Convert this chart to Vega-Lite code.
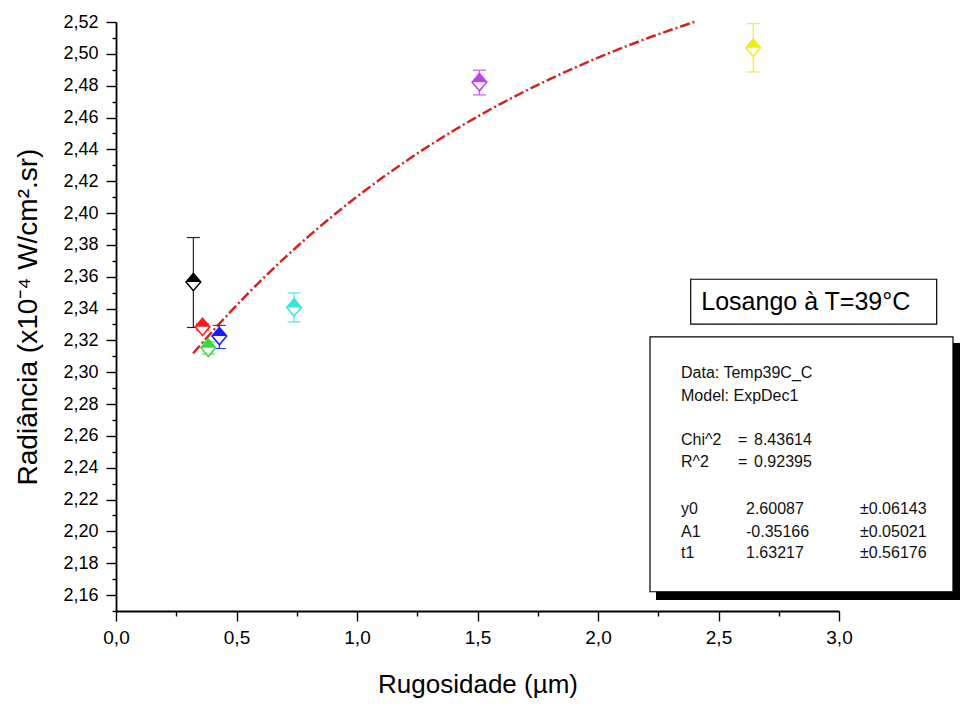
{
  "$schema": "https://vega.github.io/schema/vega-lite/v6.json",
  "autosize": "none",
  "width": 723,
  "height": 589,
  "padding": {"left": 116, "top": 22, "right": 121, "bottom": 93},
  "background": "white",
  "config": {"view": {"stroke": null}, "font": "Liberation Sans"},
  "datasets": {
    "pts": [
      {"s": "A", "x": 0.321, "y": 2.3567, "lo": 2.3281, "hi": 2.3846},
      {"s": "B", "x": 0.359, "y": 2.3285, "lo": 2.3265, "hi": 2.3305},
      {"s": "C", "x": 0.383, "y": 2.3153, "lo": 2.3114, "hi": 2.3191},
      {"s": "D", "x": 0.429, "y": 2.3227, "lo": 2.3149, "hi": 2.3294},
      {"s": "E", "x": 0.739, "y": 2.3407, "lo": 2.3316, "hi": 2.3498},
      {"s": "F", "x": 1.508, "y": 2.4822, "lo": 2.4742, "hi": 2.4897},
      {"s": "G", "x": 2.644, "y": 2.5038, "lo": 2.4886, "hi": 2.5190}
    ],
    "fit": [
      {"x": 0.32, "y": 2.31182},
      {"x": 0.45, "y": 2.33395},
      {"x": 0.60, "y": 2.35739},
      {"x": 0.80, "y": 2.38546},
      {"x": 1.00, "y": 2.41031},
      {"x": 1.20, "y": 2.43228},
      {"x": 1.40, "y": 2.45172},
      {"x": 1.60, "y": 2.46892},
      {"x": 1.80, "y": 2.48413},
      {"x": 2.00, "y": 2.49761},
      {"x": 2.20, "y": 2.50951},
      {"x": 2.40, "y": 2.52005}
    ],
    "boxes": [
      {"k": "shadow", "x": 2.2407, "x2": 3.506, "y": 2.3183, "y2": 2.1569},
      {"k": "stats", "x": 2.2158, "x2": 3.473, "y": 2.3222, "y2": 2.1621},
      {"k": "title", "x": 2.3847, "x2": 3.4054, "y": 2.3584, "y2": 2.3302}
    ],
    "ann": [
      {"t": "Data: Temp39C_C", "x": 2.3444, "y": 2.2994},
      {"t": "Model: ExpDec1", "x": 2.3444, "y": 2.2850},
      {"t": "Chi^2", "x": 2.3444, "y": 2.2574},
      {"t": "=", "x": 2.5809, "y": 2.2574},
      {"t": "8.43614", "x": 2.6473, "y": 2.2574},
      {"t": "R^2", "x": 2.3444, "y": 2.2439},
      {"t": "=", "x": 2.5809, "y": 2.2439},
      {"t": "0.92395", "x": 2.6473, "y": 2.2439},
      {"t": "y0", "x": 2.3444, "y": 2.2140},
      {"t": "2.60087", "x": 2.6141, "y": 2.2140},
      {"t": "±0.06143", "x": 3.0871, "y": 2.2140},
      {"t": "A1", "x": 2.3444, "y": 2.1999},
      {"t": "-0.35166", "x": 2.6141, "y": 2.1999},
      {"t": "±0.05021", "x": 3.0871, "y": 2.1999},
      {"t": "t1", "x": 2.3444, "y": 2.1864},
      {"t": "1.63217", "x": 2.6141, "y": 2.1864},
      {"t": "±0.56176", "x": 3.0871, "y": 2.1864}
    ],
    "label": [
      {"t": "Losango à T=39°C", "x": 2.8622, "y": 2.3442}
    ]
  },
  "layer": [
    {
      "data": {"name": "fit"},
      "mark": {"type": "line", "color": "#d42222", "strokeWidth": 2.5, "strokeDash": [10, 3, 2, 3], "interpolate": "monotone"},
      "encoding": {
        "x": {
          "field": "x", "type": "quantitative",
          "scale": {"domain": [0, 3], "nice": false, "zero": false},
          "axis": {
            "title": "Rugosidade (µm)",
            "values": [0, 0.25, 0.5, 0.75, 1, 1.25, 1.5, 1.75, 2, 2.25, 2.5, 2.75, 3],
            "tickCount": 100,
            "labelExpr": "abs(datum.value*2 - round(datum.value*2)) < 0.01 ? replace(format(datum.value, '.1f'), '.', ',') : ''",
            "tickSize": {"condition": {"test": "abs(datum.value*2 - round(datum.value*2)) < 0.01", "value": 10}, "value": 5},
            "tickColor": "black", "tickWidth": 1.4,
            "domainColor": "black", "domainWidth": 1.8,
            "labelFont": "Liberation Sans", "labelFontSize": 19, "labelColor": "black", "labelPadding": 7,
            "labelOverlap": false, "labelFlush": false, "labelBound": false,
            "titleFont": "Liberation Sans", "titleFontSize": 26, "titleFontWeight": "normal", "titleColor": "black", "titlePadding": 24,
            "grid": false
          }
        },
        "y": {
          "field": "y", "type": "quantitative",
          "scale": {"domain": [2.15, 2.52], "nice": false, "zero": false},
          "axis": {
            "title": "Radiância (x10⁻⁴ W/cm².sr)",
            "values": [2.15, 2.16, 2.17, 2.18, 2.19, 2.2, 2.21, 2.22, 2.23, 2.24, 2.25, 2.26, 2.27, 2.28, 2.29, 2.3, 2.31, 2.32, 2.33, 2.34, 2.35, 2.36, 2.37, 2.38, 2.39, 2.4, 2.41, 2.42, 2.43, 2.44, 2.45, 2.46, 2.47, 2.48, 2.49, 2.5, 2.51, 2.52],
            "tickCount": 100,
            "labelExpr": "abs(datum.value*50 - round(datum.value*50)) < 0.01 ? replace(format(datum.value, '.2f'), '.', ',') : ''",
            "tickSize": {"condition": {"test": "abs(datum.value*50 - round(datum.value*50)) < 0.01", "value": 10}, "value": 4},
            "tickColor": "black", "tickWidth": 1.4,
            "domainColor": "black", "domainWidth": 1.8,
            "labelFont": "Liberation Sans", "labelFontSize": 18, "labelColor": "black", "labelPadding": 8,
            "labelOverlap": false, "labelFlush": false, "labelBound": false,
            "titleFont": "Liberation Sans", "titleFontSize": 28, "titleFontWeight": "normal", "titleColor": "black", "titlePadding": 20,
            "grid": false
          }
        }
      }
    },
    {
      "data": {"name": "pts"},
      "mark": {"type": "rule", "strokeWidth": 1.2},
      "encoding": {
        "x": {"field": "x", "type": "quantitative", "scale": {"domain": [0, 3], "nice": false, "zero": false}},
        "y": {"field": "lo", "type": "quantitative", "scale": {"domain": [2.15, 2.52], "nice": false, "zero": false}},
        "y2": {"field": "hi"},
        "color": {"field": "s", "type": "nominal", "legend": null,
          "scale": {"domain": ["A", "B", "C", "D", "E", "F", "G"], "range": ["#000000", "#ff1a1a", "#33dd33", "#1a1aff", "#33e6e0", "#c040ee", "#eeee10"]}},
        "opacity": {"value": 0.85}
      }
    },
    {
      "data": {"name": "pts"},
      "mark": {"type": "tick", "orient": "horizontal", "size": 13, "thickness": 1.2},
      "encoding": {
        "x": {"field": "x", "type": "quantitative", "scale": {"domain": [0, 3], "nice": false, "zero": false}},
        "y": {"field": "lo", "type": "quantitative", "scale": {"domain": [2.15, 2.52], "nice": false, "zero": false}},
        "color": {"field": "s", "type": "nominal", "legend": null,
          "scale": {"domain": ["A", "B", "C", "D", "E", "F", "G"], "range": ["#000000", "#ff1a1a", "#33dd33", "#1a1aff", "#33e6e0", "#c040ee", "#eeee10"]}},
        "opacity": {"value": 0.85}
      }
    },
    {
      "data": {"name": "pts"},
      "mark": {"type": "tick", "orient": "horizontal", "size": 13, "thickness": 1.2},
      "encoding": {
        "x": {"field": "x", "type": "quantitative", "scale": {"domain": [0, 3], "nice": false, "zero": false}},
        "y": {"field": "hi", "type": "quantitative", "scale": {"domain": [2.15, 2.52], "nice": false, "zero": false}},
        "color": {"field": "s", "type": "nominal", "legend": null,
          "scale": {"domain": ["A", "B", "C", "D", "E", "F", "G"], "range": ["#000000", "#ff1a1a", "#33dd33", "#1a1aff", "#33e6e0", "#c040ee", "#eeee10"]}},
        "opacity": {"value": 0.85}
      }
    },
    {
      "data": {"name": "pts"},
      "mark": {"type": "point", "shape": "M0,-1L0.85,0L0,1L-0.85,0Z", "size": 300, "filled": false, "fill": "white", "fillOpacity": 1, "strokeWidth": 1.5, "opacity": 1},
      "encoding": {
        "x": {"field": "x", "type": "quantitative", "scale": {"domain": [0, 3], "nice": false, "zero": false}},
        "y": {"field": "y", "type": "quantitative", "scale": {"domain": [2.15, 2.52], "nice": false, "zero": false}},
        "color": {"field": "s", "type": "nominal", "legend": null,
          "scale": {"domain": ["A", "B", "C", "D", "E", "F", "G"], "range": ["#000000", "#ff1a1a", "#33dd33", "#1a1aff", "#33e6e0", "#c040ee", "#eeee10"]}}
      }
    },
    {
      "data": {"name": "pts"},
      "mark": {"type": "point", "shape": "M-0.85,0L0,-1L0.85,0Z", "size": 300, "filled": true, "opacity": 1, "strokeWidth": 0},
      "encoding": {
        "x": {"field": "x", "type": "quantitative", "scale": {"domain": [0, 3], "nice": false, "zero": false}},
        "y": {"field": "y", "type": "quantitative", "scale": {"domain": [2.15, 2.52], "nice": false, "zero": false}},
        "color": {"field": "s", "type": "nominal", "legend": null,
          "scale": {"domain": ["A", "B", "C", "D", "E", "F", "G"], "range": ["#000000", "#ff1a1a", "#33dd33", "#1a1aff", "#33e6e0", "#c040ee", "#eeee10"]}}
      }
    },
    {
      "data": {"name": "boxes"},
      "transform": [{"filter": "datum.k === 'shadow'"}],
      "mark": {"type": "rect", "fill": "black"},
      "encoding": {
        "x": {"field": "x", "type": "quantitative", "scale": {"domain": [0, 3], "nice": false, "zero": false}},
        "x2": {"field": "x2"},
        "y": {"field": "y", "type": "quantitative", "scale": {"domain": [2.15, 2.52], "nice": false, "zero": false}},
        "y2": {"field": "y2"}
      }
    },
    {
      "data": {"name": "boxes"},
      "transform": [{"filter": "datum.k !== 'shadow'"}],
      "mark": {"type": "rect", "fill": "white", "stroke": "black", "strokeWidth": 1.2},
      "encoding": {
        "x": {"field": "x", "type": "quantitative", "scale": {"domain": [0, 3], "nice": false, "zero": false}},
        "x2": {"field": "x2"},
        "y": {"field": "y", "type": "quantitative", "scale": {"domain": [2.15, 2.52], "nice": false, "zero": false}},
        "y2": {"field": "y2"}
      }
    },
    {
      "data": {"name": "ann"},
      "mark": {"type": "text", "align": "left", "baseline": "middle", "font": "Liberation Sans", "fontSize": 16, "color": "#111111"},
      "encoding": {
        "x": {"field": "x", "type": "quantitative", "scale": {"domain": [0, 3], "nice": false, "zero": false}},
        "y": {"field": "y", "type": "quantitative", "scale": {"domain": [2.15, 2.52], "nice": false, "zero": false}},
        "text": {"field": "t"}
      }
    },
    {
      "data": {"name": "label"},
      "mark": {"type": "text", "align": "center", "baseline": "middle", "font": "Liberation Sans", "fontSize": 25, "color": "black"},
      "encoding": {
        "x": {"field": "x", "type": "quantitative", "scale": {"domain": [0, 3], "nice": false, "zero": false}},
        "y": {"field": "y", "type": "quantitative", "scale": {"domain": [2.15, 2.52], "nice": false, "zero": false}},
        "text": {"field": "t"}
      }
    }
  ]
}
